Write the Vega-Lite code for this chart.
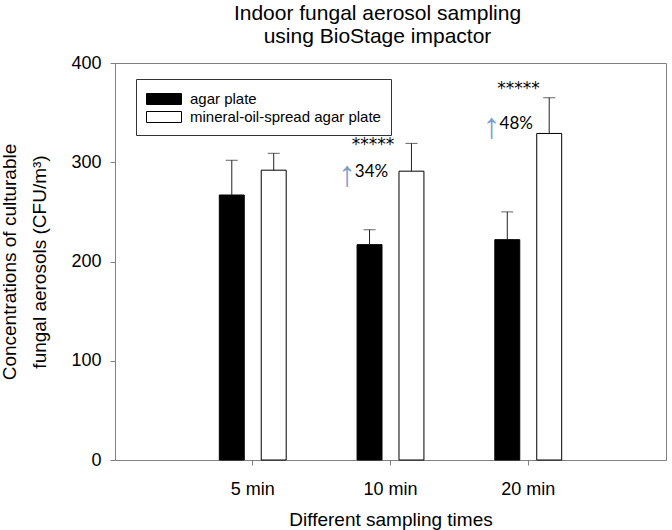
{
  "$schema": "https://vega.github.io/schema/vega-lite/v6.json",
  "width": 551,
  "height": 397,
  "autosize": {"type": "none"},
  "padding": {"left": 115, "top": 63, "right": 6, "bottom": 70},
  "background": "white",
  "title": {
    "text": ["Indoor fungal aerosol sampling", "using BioStage impactor"],
    "fontSize": 21,
    "fontWeight": "normal",
    "font": "Liberation Sans",
    "color": "black",
    "lineHeight": 23,
    "anchor": "middle",
    "dx": -13,
    "offset": 7
  },
  "datasets": {
    "bars": [
      {"time": "5 min", "plate": "agar plate", "value": 267, "upper": 302},
      {"time": "5 min", "plate": "mineral-oil-spread agar plate", "value": 292, "upper": 309},
      {"time": "10 min", "plate": "agar plate", "value": 217, "upper": 232},
      {"time": "10 min", "plate": "mineral-oil-spread agar plate", "value": 291, "upper": 319},
      {"time": "20 min", "plate": "agar plate", "value": 222, "upper": 250},
      {"time": "20 min", "plate": "mineral-oil-spread agar plate", "value": 329, "upper": 365}
    ],
    "notes": [
      {"time": "10 min", "stars": "*****", "starsY": 317, "pct": "34%", "pctY": 290, "arrow": "↑", "arrowY": 287},
      {"time": "20 min", "stars": "*****", "starsY": 373.5, "pct": "48%", "pctY": 339, "arrow": "↑", "arrowY": 336}
    ]
  },
  "data": {"name": "bars"},
  "encoding": {
    "x": {
      "field": "time",
      "type": "nominal",
      "sort": ["5 min", "10 min", "20 min"],
      "scale": {"domain": ["5 min", "10 min", "20 min"], "paddingInner": 0.3913, "paddingOuter": 0.6957},
      "axis": {"title": "Different sampling times", "labelAngle": 0}
    }
  },
  "layer": [
    {
      "mark": {"type": "bar", "stroke": "black", "strokeWidth": 1},
      "encoding": {
        "xOffset": {
          "field": "plate",
          "type": "nominal",
          "scale": {"domain": ["agar plate", "mineral-oil-spread agar plate"], "paddingInner": 0.405, "paddingOuter": 0.2024}
        },
        "y": {
          "field": "value",
          "type": "quantitative",
          "scale": {"domain": [0, 400], "nice": false},
          "axis": {
            "title": ["Concentrations of culturable", "fungal aerosols (CFU/m³)"],
            "values": [0, 100, 200, 300, 400],
            "grid": false
          }
        },
        "color": {
          "field": "plate",
          "type": "nominal",
          "scale": {"domain": ["agar plate", "mineral-oil-spread agar plate"], "range": ["black", "white"]},
          "legend": {
            "title": null,
            "orient": "none",
            "legendX": 21,
            "legendY": 16,
            "direction": "vertical"
          }
        }
      }
    },
    {
      "mark": {"type": "rule", "color": "#222222", "strokeWidth": 1},
      "encoding": {
        "xOffset": {"field": "plate", "type": "nominal"},
        "y": {"field": "value", "type": "quantitative"},
        "y2": {"field": "upper"}
      }
    },
    {
      "mark": {"type": "tick", "color": "#222222", "thickness": 1, "size": 12},
      "encoding": {
        "xOffset": {"field": "plate", "type": "nominal"},
        "y": {"field": "upper", "type": "quantitative"}
      }
    },
    {
      "data": {"name": "notes"},
      "transform": [{"filter": "datum.time === '10 min'"}],
      "mark": {"type": "text", "font": "DejaVu Sans", "fontSize": 17, "baseline": "middle", "align": "center", "dx": -17.5, "color": "black"},
      "encoding": {"text": {"field": "stars"}, "y": {"field": "starsY", "type": "quantitative"}}
    },
    {
      "data": {"name": "notes"},
      "transform": [{"filter": "datum.time === '20 min'"}],
      "mark": {"type": "text", "font": "DejaVu Sans", "fontSize": 17, "baseline": "middle", "align": "center", "dx": -9.7, "color": "black"},
      "encoding": {"text": {"field": "stars"}, "y": {"field": "starsY", "type": "quantitative"}}
    },
    {
      "data": {"name": "notes"},
      "transform": [{"filter": "datum.time === '10 min'"}],
      "mark": {"type": "text", "font": "Lato", "fontSize": 17, "baseline": "middle", "align": "center", "dx": -19, "color": "black"},
      "encoding": {"text": {"field": "pct"}, "y": {"field": "pctY", "type": "quantitative"}}
    },
    {
      "data": {"name": "notes"},
      "transform": [{"filter": "datum.time === '20 min'"}],
      "mark": {"type": "text", "font": "Lato", "fontSize": 17, "baseline": "middle", "align": "center", "dx": -12, "color": "black"},
      "encoding": {"text": {"field": "pct"}, "y": {"field": "pctY", "type": "quantitative"}}
    },
    {
      "data": {"name": "notes"},
      "transform": [{"filter": "datum.time === '10 min'"}],
      "mark": {"type": "text", "font": "Liberation Sans", "fontSize": 36, "baseline": "middle", "align": "center", "dx": -43.3, "color": "#7a9cd0"},
      "encoding": {"text": {"field": "arrow"}, "y": {"field": "arrowY", "type": "quantitative"}}
    },
    {
      "data": {"name": "notes"},
      "transform": [{"filter": "datum.time === '20 min'"}],
      "mark": {"type": "text", "font": "Liberation Sans", "fontSize": 36, "baseline": "middle", "align": "center", "dx": -36.4, "color": "#7a9cd0"},
      "encoding": {"text": {"field": "arrow"}, "y": {"field": "arrowY", "type": "quantitative"}}
    }
  ],
  "config": {
    "font": "Liberation Sans",
    "view": {"stroke": "#808080", "strokeWidth": 1},
    "axis": {
      "domainColor": "#808080",
      "tickColor": "#808080",
      "tickSize": 5,
      "labelFont": "Liberation Sans",
      "labelFontSize": 18,
      "labelColor": "black",
      "titleFont": "Liberation Sans",
      "titleFontSize": 19,
      "titleFontWeight": "normal",
      "titleColor": "black",
      "grid": false
    },
    "axisX": {"labelPadding": 15, "titlePadding": 12},
    "axisY": {"labelPadding": 9, "titlePadding": 21, "titleLineHeight": 30},
    "legend": {
      "padding": 10,
      "strokeColor": "#333333",
      "fillColor": "white",
      "labelFont": "Liberation Sans",
      "labelFontSize": 15,
      "labelColor": "black",
      "labelOffset": 16,
      "labelLimit": 400,
      "symbolOffset": 8,
      "symbolType": "M-1.842,-0.579H1.842V0.579H-1.842Z",
      "symbolSize": 361,
      "symbolStrokeColor": "black",
      "symbolStrokeWidth": 1,
      "symbolOpacity": 1,
      "rowPadding": 0
    }
  }
}
